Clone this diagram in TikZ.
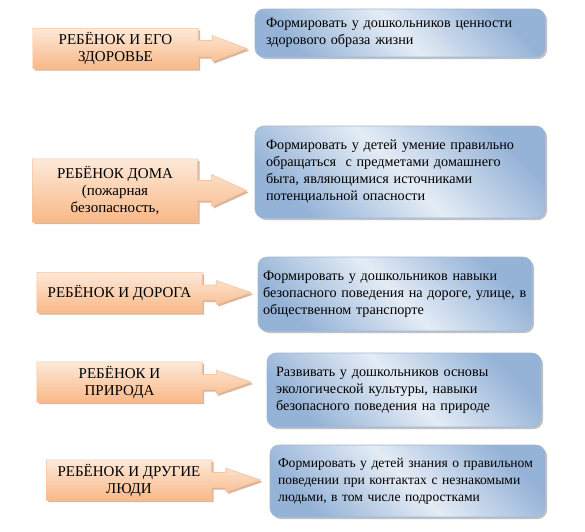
\documentclass[tikz,border=0pt]{standalone}
\usepackage{fontspec}
\setmainfont{Liberation Serif}
\usepackage{xcolor}
\usepackage{tikz}
\usetikzlibrary{calc,shadows,backgrounds}

\definecolor{peachtop}{HTML}{FDE9D9}
\definecolor{peachbot}{HTML}{F9B886}
\definecolor{peachedge}{HTML}{F8C59B}
\definecolor{peachshadow}{HTML}{C9A58C}
\definecolor{bluedark}{HTML}{95B3D7}
\definecolor{bluelight}{HTML}{E4ECF5}
\definecolor{blueedge}{HTML}{9DB7D8}

\begin{document}
\begin{tikzpicture}[
    x=1pt, y=-1pt,
    font=\fontsize{14.2}{17}\selectfont,
    topic/.style={rectangle, inner sep=0pt, minimum width=165pt, minimum height=40pt, align=center,
        font=\fontsize{15}{17}\selectfont},
    callout/.style={draw=peachedge, line width=0.6pt, top color=peachtop, bottom color=peachbot,
        drop shadow={shadow xshift=2pt, shadow yshift=-2pt, fill=peachshadow, opacity=0.8}},
    goal/.style={rectangle, rounded corners=9pt, draw=blueedge, line width=0.6pt,
        left color=bluedark, right color=bluedark, middle color=bluelight, shading angle=135,
        drop shadow={shadow xshift=2pt, shadow yshift=-2pt, fill=gray!70, opacity=0.7},
        align=left}
]
    \useasboundingbox (0,0) rectangle (585,531);

    % Left column
    \node[topic] (home) at (115.5,48.5) {РЕБЁНОК И ЕГО\\ЗДОРОВЬЕ};
    \node[topic, minimum height=63pt] (house) at (115,190.5) {РЕБЁНОК ДОМА\\(пожарная\\безопасность,};
    \node[topic] (road) at (119.5,292.5) {РЕБЁНОК И ДОРОГА};
    \node[topic] (nature) at (119.5,382) {РЕБЁНОК И\\ПРИРОДА};
    \node[topic] (people) at (129,480) {РЕБЁНОК И ДРУГИЕ\\ЛЮДИ};

    % Right column
    \node[goal, inner xsep=11pt, text width=268pt, minimum height=48pt] (health) at (400,33)
        {Формировать у дошкольников ценности\\здорового образа жизни};
    \node[goal, inner xsep=11pt, text width=268pt, minimum height=92pt] (safety) at (400,172)
        {Формировать у детей умение правильно\\обращаться~ с предметами домашнего\\быта, являющимися источниками\\потенциальной опасности};
    \node[goal, inner xsep=5pt, text width=264pt, minimum height=74pt] (traffic) at (395,294)
        {Формировать у дошкольников навыки\\безопасного поведения на дороге, улице, в\\общественном транспорте};
    \node[goal, inner xsep=9pt, text width=256pt, minimum height=74pt] (ecology) at (404,390)
        {Развивать у дошкольников основы\\экологической культуры, навыки\\безопасного поведения на природе};
    \node[goal, inner xsep=8pt, text width=259pt, minimum height=72pt, font=\fontsize{13.6}{17}\selectfont] (strangers) at (407.5,481)
        {Формировать у детей знания о правильном\\поведении при контактах с незнакомыми\\людьми, в том числе подростками};

    % Arrow callouts
    \begin{scope}[on background layer]
    \foreach \nd/\sh/\hd in {home/8/13, house/10/16, road/7.5/12, nature/7.5/12, people/7.5/12}
        \path[callout] (\nd.north west) -- (\nd.north east) -- ($(\nd.east)+(0,-\sh)$)
            -- ($(\nd.east)+(14,-\sh)$) -- ($(\nd.east)+(14,-\hd)$) -- ($(\nd.east)+(49,0)$)
            -- ($(\nd.east)+(14,\hd)$) -- ($(\nd.east)+(14,\sh)$) -- ($(\nd.east)+(0,\sh)$)
            -- (\nd.south east) -- (\nd.south west) -- cycle;
    \end{scope}

\end{tikzpicture}
\end{document}
